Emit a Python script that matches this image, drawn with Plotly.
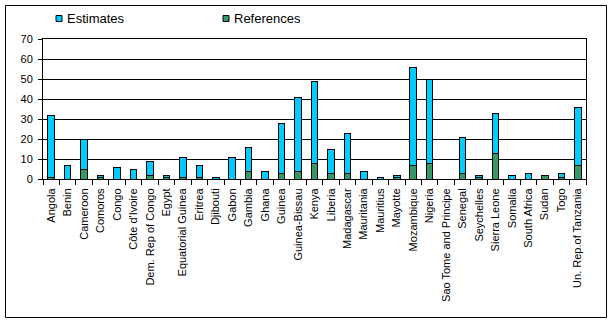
import plotly.graph_objects as go

countries = [
    "Angola", "Benin", "Cameroon", "Comoros", "Congo", "Côte d'Ivoire",
    "Dem. Rep of Congo", "Egypt", "Equatorial Guinea", "Eritrea", "Djibouti",
    "Gabon", "Gambia", "Ghana", "Guinea", "Guinea-Bissau", "Kenya", "Liberia",
    "Madagascar", "Mauritania", "Mauritius", "Mayotte", "Mozambique", "Nigeria",
    "Sao Tome and Principe", "Senegal", "Seychelles", "Sierra Leone", "Somalia",
    "South Africa", "Sudan", "Togo", "Un. Rep.of Tanzania",
]
references = [1, 0, 5, 1, 0, 0, 2, 1, 1, 1, 0, 0, 4, 0, 3, 4, 8, 3, 3, 0, 0, 1,
              7, 8, 0, 3, 1, 13, 0, 0, 2, 1, 7]
estimates = [31, 7, 15, 1, 6, 5, 7, 1, 10, 6, 1, 11, 12, 4, 25, 37, 41, 12, 20,
             4, 1, 1, 49, 42, 0, 18, 1, 20, 2, 3, 0, 2, 29]
y_ticks = [0, 10, 20, 30, 40, 50, 60, 70]

BLUE = "#00CCFF"
GREEN = "#339966"
FONT = "Liberation Sans, Arial, sans-serif"

W, H = 612, 322
ML, MR, MT, MB = 43, 26, 39, 143
PW, PH = W - ML - MR, H - MT - MB


def px_x(x):
    return (x - ML) / PW


def px_y(y):
    return (H - MB - y) / PH


fig = go.Figure()
fig.add_trace(go.Bar(
    x=countries, y=references, name="References",
    marker=dict(color=GREEN, line=dict(color="black", width=1)),
))
fig.add_trace(go.Bar(
    x=countries, y=estimates, name="Estimates",
    marker=dict(color=BLUE, line=dict(color="black", width=1)),
))

shapes = [
    # outer frame around the whole chart
    dict(type="rect", xref="paper", yref="paper",
         x0=px_x(5.5), x1=px_x(606.5), y0=px_y(317.5), y1=px_y(5.5),
         line=dict(color="black", width=1), fillcolor="rgba(0,0,0,0)", layer="below"),
]
annotations = []
legend_items = [("Estimates", BLUE, 56), ("References", GREEN, 223)]
for label, color, x in legend_items:
    shapes.append(dict(type="rect", xref="paper", yref="paper",
                       x0=px_x(x), x1=px_x(x + 6), y0=px_y(21.5), y1=px_y(15.5),
                       line=dict(color="black", width=1), fillcolor=color))
    annotations.append(dict(text=label, xref="paper", yref="paper",
                            x=px_x(x + 9), y=px_y(18.5), xanchor="left", yanchor="middle",
                            showarrow=False, font=dict(family=FONT, size=13, color="black")))

fig.update_layout(
    width=W, height=H,
    margin=dict(l=ML, r=MR, t=MT, b=MB, pad=0),
    barmode="stack", bargap=0.6,
    plot_bgcolor="white", paper_bgcolor="white",
    showlegend=False,
    shapes=shapes, annotations=annotations,
    font=dict(family=FONT, size=11, color="black"),
)
fig.update_xaxes(
    type="category", tickangle=-90, tickson="boundaries",
    ticks="outside", ticklen=5, tickcolor="black", ticklabelstandoff=4,
    showline=True, linecolor="black", linewidth=1, mirror=True,
    showgrid=False, tickfont=dict(family=FONT, size=11, color="black"),
)
fig.update_yaxes(
    range=[0, 70], tickvals=y_ticks, ticks="outside", ticklen=4, tickcolor="black",
    ticklabelstandoff=3,
    showline=True, linecolor="black", linewidth=1, mirror=True,
    showgrid=True, gridcolor="black", gridwidth=1, zeroline=False,
    tickfont=dict(family=FONT, size=11, color="black"),
)

fig.write_html("out.html")
